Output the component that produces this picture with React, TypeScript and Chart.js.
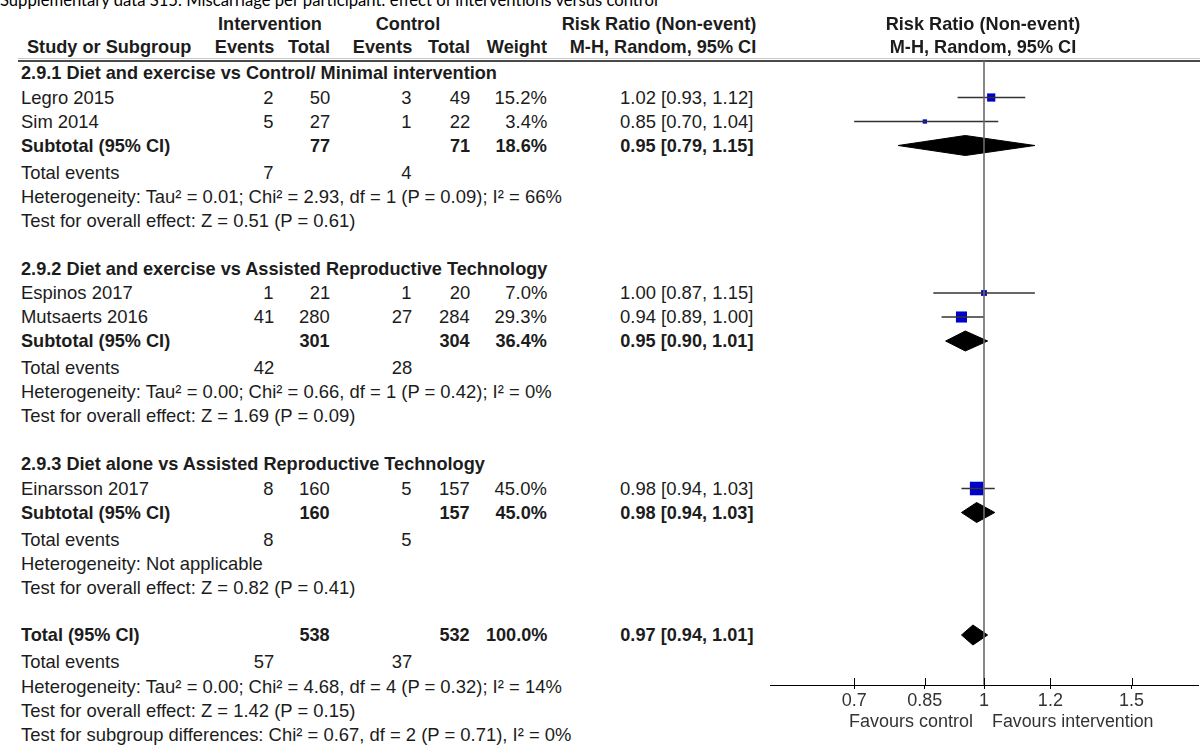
import { useEffect, useRef } from "react";
import { Chart, registerables } from "chart.js";

Chart.register(...registerables);

// ---- Study-level data ----
const studyNames = ["Legro 2015", "Sim 2014", "Espinos 2017", "Mutsaerts 2016", "Einarsson 2017"];
const studyGroup = [0, 0, 1, 1, 2];
const intEvents = [2, 5, 1, 41, 8];
const intTotal = [50, 27, 21, 280, 160];
const ctlEvents = [3, 1, 1, 27, 5];
const ctlTotal = [49, 22, 20, 284, 157];
const studyWeight = [15.2, 3.4, 7.0, 29.3, 45.0];
const studyRR = [1.02, 0.85, 1.0, 0.94, 0.98];
const studyLo = [0.93, 0.7, 0.87, 0.89, 0.94];
const studyHi = [1.12, 1.04, 1.15, 1.0, 1.03];

// ---- Subgroup data ----
const subgroupTitles = [
  "2.9.1 Diet and exercise vs Control/ Minimal intervention",
  "2.9.2 Diet and exercise vs Assisted Reproductive Technology",
  "2.9.3 Diet alone vs Assisted Reproductive Technology",
];
const subIntTotal = [77, 301, 160];
const subCtlTotal = [71, 304, 157];
const subWeight = [18.6, 36.4, 45.0];
const subRR = [0.95, 0.95, 0.98];
const subLo = [0.79, 0.9, 0.94];
const subHi = [1.15, 1.01, 1.03];
const subIntEvents = [7, 42, 8];
const subCtlEvents = [4, 28, 5];
const subHeterogeneity = [
  "Heterogeneity: Tau\u00b2 = 0.01; Chi\u00b2 = 2.93, df = 1 (P = 0.09); I\u00b2 = 66%",
  "Heterogeneity: Tau\u00b2 = 0.00; Chi\u00b2 = 0.66, df = 1 (P = 0.42); I\u00b2 = 0%",
  "Heterogeneity: Not applicable",
];
const subOverall = [
  "Test for overall effect: Z = 0.51 (P = 0.61)",
  "Test for overall effect: Z = 1.69 (P = 0.09)",
  "Test for overall effect: Z = 0.82 (P = 0.41)",
];

// ---- Pooled total ----
const totalIntTotal = 538;
const totalCtlTotal = 532;
const totalWeight = 100.0;
const totalRR = 0.97;
const totalLo = 0.94;
const totalHi = 1.01;
const totalIntEvents = 57;
const totalCtlEvents = 37;
const totalHeterogeneity = "Heterogeneity: Tau\u00b2 = 0.00; Chi\u00b2 = 4.68, df = 4 (P = 0.32); I\u00b2 = 14%";
const totalOverall = "Test for overall effect: Z = 1.42 (P = 0.15)";
const subgroupDifferences = "Test for subgroup differences: Chi\u00b2 = 0.67, df = 2 (P = 0.71), I\u00b2 = 0%";

// ---- Axis ----
const axisTicks = [0.7, 0.85, 1, 1.2, 1.5];
const axisTickLabels = ["0.7", "0.85", "1", "1.2", "1.5"];
const axisMin = 1 / 1.8;
const axisMax = 1.8;

const title = "Supplementary data S15. Miscarriage per participant: effect of interventions versus control";

// ---- Layout ----
const W = 1200;
const H = 747;
const FONT = '"Liberation Sans", Arial, sans-serif';
const FS = 19;
const SX = 0.97; // horizontal squeeze of regular text
const SXB = 0.955; // horizontal squeeze of bold text
const LH = 22;
const TEXT = "#1c1c1c";
const PLOT_TOP = 61;
const PLOT_BOTTOM = 685;
const CANVAS_LEFT = 760;
const AREA_LEFT = 770;
const AREA_RIGHT = 1198;

const COL = { label: 21, intEv: 274, intTot: 330, ctlEv: 412, ctlTot: 470, weight: 547, ci: 753 };

type Align = "l" | "r" | "c";
type Cell = { t: string; x: number; y: number; a: Align; b?: boolean; fs?: number; sx?: number; color?: string };
type Mark = { y: number; rr: number; lo: number; hi: number; w?: number };

const ciText = (rr: number, lo: number, hi: number) =>
  `${rr.toFixed(2)} [${lo.toFixed(2)}, ${hi.toFixed(2)}]`;
const pct = (w: number) => `${w.toFixed(1)}%`;

function buildLayout() {
  const cells: Cell[] = [];
  const studies: Mark[] = [];
  const diamonds: Mark[] = [];

  // column headers
  const h1 = 24;
  const h2 = 47;
  cells.push({ t: "Intervention", x: 270, y: h1, a: "c", b: true });
  cells.push({ t: "Control", x: 408, y: h1, a: "c", b: true });
  cells.push({ t: "Risk Ratio (Non-event)", x: 659, y: h1, a: "c", b: true });
  cells.push({ t: "Risk Ratio (Non-event)", x: 983, y: h1, a: "c", b: true });
  cells.push({ t: "Study or Subgroup", x: 27, y: h2, a: "l", b: true });
  cells.push({ t: "Events", x: COL.intEv, y: h2, a: "r", b: true });
  cells.push({ t: "Total", x: COL.intTot, y: h2, a: "r", b: true });
  cells.push({ t: "Events", x: COL.ctlEv, y: h2, a: "r", b: true });
  cells.push({ t: "Total", x: COL.ctlTot, y: h2, a: "r", b: true });
  cells.push({ t: "Weight", x: COL.weight, y: h2, a: "r", b: true });
  cells.push({ t: "M-H, Random, 95% CI", x: 663, y: h2, a: "c", b: true });
  cells.push({ t: "M-H, Random, 95% CI", x: 983, y: h2, a: "c", b: true });

  let y = 73;
  subgroupTitles.forEach((name, g) => {
    cells.push({ t: name, x: COL.label, y, a: "l", b: true });
    y += 24.5;
    studyNames.forEach((s, i) => {
      if (studyGroup[i] !== g) return;
      cells.push({ t: s, x: COL.label, y, a: "l" });
      cells.push({ t: String(intEvents[i]), x: COL.intEv, y, a: "r" });
      cells.push({ t: String(intTotal[i]), x: COL.intTot, y, a: "r" });
      cells.push({ t: String(ctlEvents[i]), x: COL.ctlEv, y, a: "r" });
      cells.push({ t: String(ctlTotal[i]), x: COL.ctlTot, y, a: "r" });
      cells.push({ t: pct(studyWeight[i]), x: COL.weight, y, a: "r" });
      cells.push({ t: ciText(studyRR[i], studyLo[i], studyHi[i]), x: COL.ci, y, a: "r" });
      studies.push({ y, rr: studyRR[i], lo: studyLo[i], hi: studyHi[i], w: studyWeight[i] });
      y += 24;
    });
    cells.push({ t: "Subtotal (95% CI)", x: COL.label, y, a: "l", b: true });
    cells.push({ t: String(subIntTotal[g]), x: COL.intTot, y, a: "r", b: true });
    cells.push({ t: String(subCtlTotal[g]), x: COL.ctlTot, y, a: "r", b: true });
    cells.push({ t: pct(subWeight[g]), x: COL.weight, y, a: "r", b: true });
    cells.push({ t: ciText(subRR[g], subLo[g], subHi[g]), x: COL.ci, y, a: "r", b: true });
    diamonds.push({ y, rr: subRR[g], lo: subLo[g], hi: subHi[g] });
    y += 27;
    cells.push({ t: "Total events", x: COL.label, y, a: "l" });
    cells.push({ t: String(subIntEvents[g]), x: COL.intEv, y, a: "r" });
    cells.push({ t: String(subCtlEvents[g]), x: COL.ctlEv, y, a: "r" });
    y += 24;
    cells.push({ t: subHeterogeneity[g], x: COL.label, y, a: "l" });
    y += 24;
    cells.push({ t: subOverall[g], x: COL.label, y, a: "l" });
    y += 48;
  });

  y -= 0.5;
  cells.push({ t: "Total (95% CI)", x: COL.label, y, a: "l", b: true });
  cells.push({ t: String(totalIntTotal), x: COL.intTot, y, a: "r", b: true });
  cells.push({ t: String(totalCtlTotal), x: COL.ctlTot, y, a: "r", b: true });
  cells.push({ t: pct(totalWeight), x: COL.weight, y, a: "r", b: true });
  cells.push({ t: ciText(totalRR, totalLo, totalHi), x: COL.ci, y, a: "r", b: true });
  diamonds.push({ y, rr: totalRR, lo: totalLo, hi: totalHi });
  y += 27;
  cells.push({ t: "Total events", x: COL.label, y, a: "l" });
  cells.push({ t: String(totalIntEvents), x: COL.intEv, y, a: "r" });
  cells.push({ t: String(totalCtlEvents), x: COL.ctlEv, y, a: "r" });
  y += 24.5;
  cells.push({ t: totalHeterogeneity, x: COL.label, y, a: "l" });
  y += 24;
  cells.push({ t: totalOverall, x: COL.label, y, a: "l" });
  y += 24;
  cells.push({ t: subgroupDifferences, x: COL.label, y, a: "l" });

  // favours labels under the axis
  cells.push({ t: "Favours control", x: 973, y: 721, a: "r", fs: 18, sx: 1, color: "#333" });
  cells.push({ t: "Favours intervention", x: 992, y: 721, a: "l", fs: 18, sx: 0.99, color: "#333" });

  return { cells, studies, diamonds };
}

const layout = buildLayout();

// Square side grows with study weight
const squareSide = (w: number) => 0.8 + 1.9 * Math.sqrt(w);

// tick marks that cross the axis line
const crossTicks = {
  id: "crossTicks",
  afterDraw(chart: any) {
    const s = chart.scales.x;
    const ctx = chart.ctx as CanvasRenderingContext2D;
    const yb = chart.chartArea.bottom;
    ctx.save();
    ctx.strokeStyle = "#000";
    ctx.lineWidth = 1;
    for (const t of s.ticks) {
      const px = Math.round(s.getPixelForValue(t.value)) + 0.5;
      ctx.beginPath();
      ctx.moveTo(px, yb - 7);
      ctx.lineTo(px, yb);
      ctx.stroke();
    }
    ctx.restore();
  },
};

function ForestPlot() {
  const ref = useRef<HTMLCanvasElement | null>(null);

  useEffect(() => {
    if (!ref.current) return;
    const { studies, diamonds } = layout;
    const datasets: any[] = [];

    // line of no effect
    datasets.push({
      data: [
        { x: 1, y: PLOT_TOP },
        { x: 1, y: PLOT_BOTTOM },
      ],
      showLine: true,
      borderColor: "#6a6a6a",
      borderWidth: 1.6,
      pointRadius: 0,
      clip: false,
    });

    // confidence intervals
    studies.forEach((s) => {
      datasets.push({
        data: [
          { x: s.lo, y: s.y },
          { x: s.hi, y: s.y },
        ],
        showLine: true,
        borderColor: "#333",
        borderWidth: 1.4,
        pointRadius: 0,
        clip: false,
      });
    });

    // point estimates
    datasets.push({
      data: studies.map((s) => ({ x: s.rr, y: s.y })),
      pointStyle: "rect",
      pointRadius: studies.map((s) => squareSide(s.w as number) / Math.SQRT2),
      backgroundColor: "#0000cc",
      borderColor: "#0000cc",
      borderWidth: 0,
      clip: false,
    });

    // pooled estimates
    diamonds.forEach((d) => {
      const hh = 10;
      datasets.push({
        data: [
          { x: d.lo, y: d.y },
          { x: d.rr, y: d.y - hh },
          { x: d.hi, y: d.y },
          { x: d.rr, y: d.y + hh },
          { x: d.lo, y: d.y },
        ],
        showLine: true,
        fill: "shape",
        backgroundColor: "#000",
        borderColor: "#000",
        borderWidth: 1,
        pointRadius: 0,
        tension: 0,
        clip: false,
      });
    });

    const chart = new Chart(ref.current, {
      type: "scatter",
      data: { datasets },
      plugins: [crossTicks],
      options: {
        animation: false,
        responsive: false,
        maintainAspectRatio: false,
        events: [],
        layout: {
          autoPadding: false,
          padding: {
            left: AREA_LEFT - CANVAS_LEFT,
            right: W - AREA_RIGHT,
            top: PLOT_TOP,
            bottom: 0,
          },
        },
        plugins: {
          legend: { display: false },
          tooltip: { enabled: false },
          title: { display: false },
        },
        scales: {
          x: {
            type: "logarithmic",
            min: axisMin,
            max: axisMax,
            afterBuildTicks: (scale: any) => {
              scale.ticks = axisTicks.map((v) => ({ value: v }));
            },
            afterFit: (scale: any) => {
              scale.height = H - PLOT_BOTTOM;
              scale.paddingLeft = 0;
              scale.paddingRight = 0;
            },
            border: { display: true, color: "#000", width: 1 },
            grid: {
              display: true,
              drawOnChartArea: false,
              drawTicks: true,
              tickLength: 4,
              color: "#000",
              lineWidth: 1,
            },
            ticks: {
              autoSkip: false,
              maxRotation: 0,
              padding: 1,
              color: "#333",
              font: { family: FONT, size: 18 },
              callback: (v: any) => {
                const i = axisTicks.indexOf(Number(v));
                return i >= 0 ? axisTickLabels[i] : "";
              },
            },
          },
          y: {
            type: "linear",
            display: false,
            reverse: true,
            min: PLOT_TOP,
            max: PLOT_BOTTOM,
          },
        },
      },
    });
    return () => chart.destroy();
  }, []);

  return (
    <canvas
      ref={ref}
      width={W - CANVAS_LEFT}
      height={H}
      style={{ position: "absolute", left: CANVAS_LEFT, top: 0, width: W - CANVAS_LEFT, height: H }}
    />
  );
}

function TextCell({ c }: { c: Cell }) {
  const fs = c.fs ?? FS;
  const sx = c.sx ?? (c.b ? SXB : SX);
  const pos: any = {
    position: "absolute",
    top: c.y - LH / 2,
    height: LH,
    lineHeight: `${LH}px`,
    fontFamily: FONT,
    fontSize: fs,
    fontWeight: c.b ? 700 : 400,
    color: c.color ?? TEXT,
    whiteSpace: "pre",
  };
  if (c.a === "l") {
    pos.left = c.x;
    pos.transformOrigin = "left center";
    pos.transform = `scaleX(${sx})`;
  } else if (c.a === "r") {
    pos.right = W - c.x;
    pos.transformOrigin = "right center";
    pos.transform = `scaleX(${sx})`;
  } else {
    pos.left = c.x;
    pos.transformOrigin = "center center";
    pos.transform = `translateX(-50%) scaleX(${sx})`;
  }
  return <div style={pos}>{c.t}</div>;
}

export default function App() {
  return (
    <div
      style={{
        position: "absolute",
        left: 0,
        top: 0,
        width: W,
        height: H,
        overflow: "hidden",
        background: "#fff",
      }}
    >
      <div
        style={{
          position: "absolute",
          left: 0,
          top: -10,
          fontFamily: "Lato, 'Open Sans', sans-serif",
          fontSize: 17.5,
          lineHeight: "20px",
          color: "#000",
          whiteSpace: "pre",
          transformOrigin: "left center",
          transform: "scaleX(0.95)",
        }}
      >
        {title}
      </div>
      {/* header rule */}
      <div style={{ position: "absolute", left: 18, top: 58, width: W - 18, height: 1, background: "#c8c8c8" }} />
      <div style={{ position: "absolute", left: 18, top: 60, width: W - 18, height: 1.5, background: "#4a4a4a" }} />
      <ForestPlot />
      {layout.cells.map((c, i) => (
        <TextCell key={i} c={c} />
      ))}
    </div>
  );
}
